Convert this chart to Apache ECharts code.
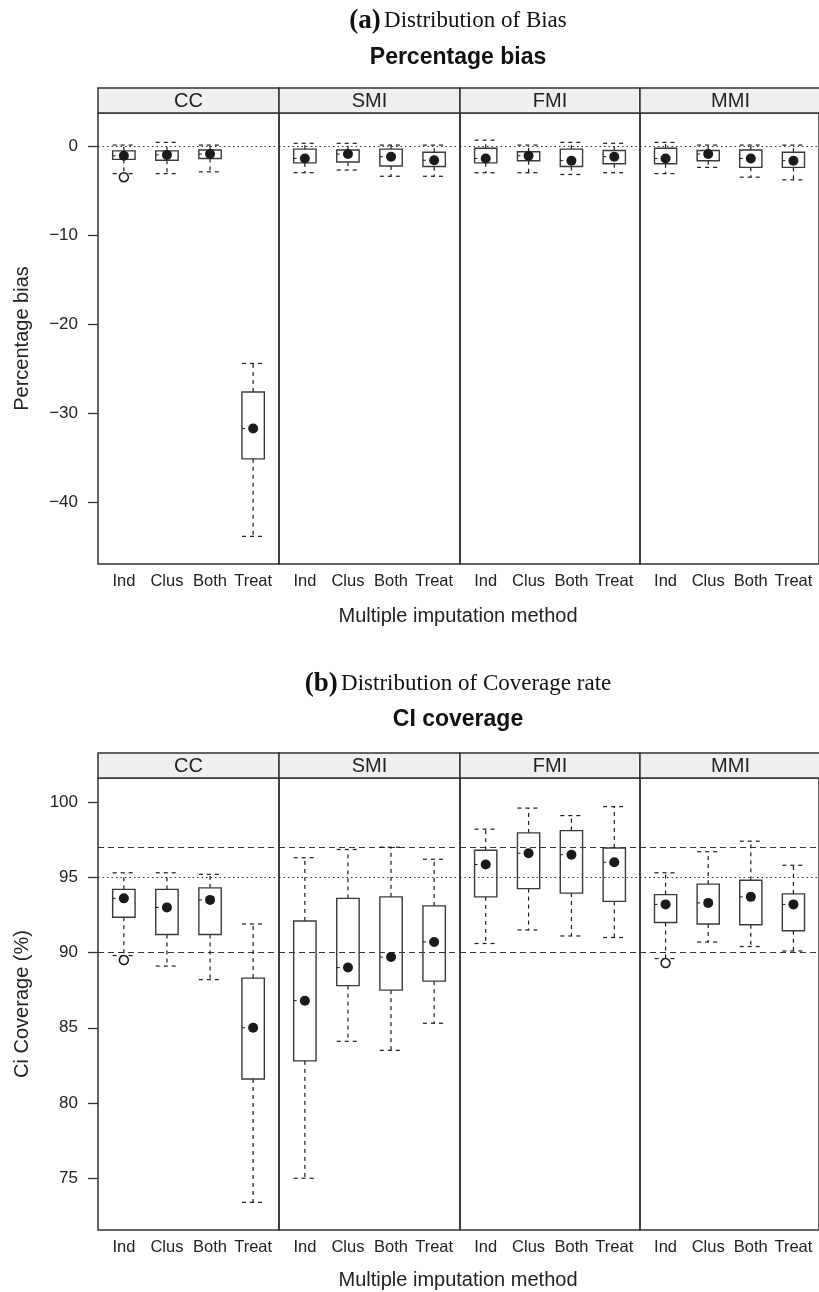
<!DOCTYPE html>
<html>
<head>
<meta charset="utf-8">
<script src="https://cdn.jsdelivr.net/npm/echarts@6/dist/echarts.min.js"></script>
<style>
  html, body { margin: 0; padding: 0; background: #fff; }
  #main { width: 819px; height: 1292px; }
</style>
</head>
<body>
<div id="main"></div>
<script>
// panels and groups
var methods = ['CC', 'SMI', 'FMI', 'MMI'];
var groups = ['Ind', 'Clus', 'Both', 'Treat'];

// box stats per group: [lower whisker, Q1, median, Q3, upper whisker]
var biasCC  = [[-3.1, -1.5, -1.1, -0.55, 0.1], [-3.1, -1.6, -1.0, -0.55, 0.4], [-2.9, -1.4, -0.9, -0.45, 0.1], [-43.8, -35.1, -31.7, -27.6, -24.4]];
var biasSMI = [[-3.0, -1.9, -1.4, -0.35, 0.3], [-2.7, -1.8, -0.9, -0.45, 0.3], [-3.4, -2.25, -1.2, -0.35, 0.1], [-3.4, -2.3, -1.6, -0.7, 0.1]];
var biasFMI = [[-3.0, -1.9, -1.4, -0.25, 0.65], [-3.0, -1.65, -1.1, -0.65, 0.1], [-3.2, -2.3, -1.65, -0.35, 0.4], [-3.0, -2.0, -1.2, -0.5, 0.3]];
var biasMMI = [[-3.1, -2.0, -1.4, -0.25, 0.4], [-2.4, -1.65, -0.9, -0.5, 0.1], [-3.5, -2.4, -1.4, -0.45, 0.1], [-3.8, -2.4, -1.65, -0.7, 0.1]];
// outliers: [panel, group, value]
var biasOutliers = [['CC', 'Ind', -3.5]];

var coverCC  = [[89.8, 92.35, 93.6, 94.2, 95.3], [89.1, 91.2, 93.0, 94.2, 95.3], [88.2, 91.2, 93.5, 94.3, 95.2], [73.4, 81.6, 85.0, 88.3, 91.9]];
var coverSMI = [[75.0, 82.8, 86.8, 92.1, 96.3], [84.1, 87.8, 89.0, 93.6, 96.85], [83.5, 87.5, 89.7, 93.7, 97.0], [85.3, 88.1, 90.7, 93.1, 96.2]];
var coverFMI = [[90.6, 93.7, 95.85, 96.8, 98.2], [91.5, 94.25, 96.6, 97.95, 99.6], [91.1, 93.95, 96.5, 98.1, 99.1], [91.0, 93.4, 96.0, 96.95, 99.7]];
var coverMMI = [[89.6, 92.0, 93.2, 93.85, 95.3], [90.7, 91.9, 93.3, 94.55, 96.7], [90.4, 91.85, 93.7, 94.8, 97.4], [90.1, 91.45, 93.2, 93.9, 95.8]];
var coverOutliers = [['CC', 'Ind', 89.5], ['MMI', 'Ind', 89.3]];

var biasTicks = [-40, -30, -20, -10, 0];
var coverTicks = [75, 80, 85, 90, 95, 100];
var biasDotted = [0];
var coverDotted = [95];
var coverDashed = [90, 97];

var sans = '"Liberation Sans", Arial, Helvetica, sans-serif';
var serif = '"Liberation Serif", "Times New Roman", serif';
var ink = '#1a1a1a';

var panelLeft = [98, 279, 460, 640];
var panelWidth = [181, 181, 180, 181];

var rows = [
  { top: 113, height: 451, min: -46.9, max: 3.7, ticks: biasTicks, stats: [biasCC, biasSMI, biasFMI, biasMMI],
    outliers: biasOutliers, dotted: biasDotted, dashed: [], yName: 'Percentage bias' },
  { top: 778, height: 452, min: 71.56, max: 101.6, ticks: coverTicks, stats: [coverCC, coverSMI, coverFMI, coverMMI],
    outliers: coverOutliers, dotted: coverDotted, dashed: coverDashed, yName: 'Ci Coverage (%)' }
];

function renderBox(params, api) {
  var x = api.value(0);
  var lo = api.coord([x, api.value(1)]);
  var q1 = api.coord([x, api.value(2)]);
  var md = api.coord([x, api.value(3)]);
  var q3 = api.coord([x, api.value(4)]);
  var hi = api.coord([x, api.value(5)]);
  var half = api.size([1, 0])[0] * 0.26;
  var cx = md[0];
  var dash = { stroke: ink, lineWidth: 1.2, lineDash: [4, 4] };
  return {
    type: 'group',
    children: [
      { type: 'line', shape: { x1: cx, y1: q3[1], x2: cx, y2: hi[1] }, style: dash },
      { type: 'line', shape: { x1: cx - half, y1: hi[1], x2: cx + half, y2: hi[1] }, style: dash },
      { type: 'line', shape: { x1: cx, y1: q1[1], x2: cx, y2: lo[1] }, style: dash },
      { type: 'line', shape: { x1: cx - half, y1: lo[1], x2: cx + half, y2: lo[1] }, style: dash },
      { type: 'rect', shape: { x: cx - half, y: q3[1], width: half * 2, height: q1[1] - q3[1] },
        style: { fill: 'transparent', stroke: '#3a3a3a', lineWidth: 1.4 } },
      { type: 'line', shape: { x1: cx - half, y1: md[1], x2: cx - half + 3, y2: md[1] }, style: { stroke: ink, lineWidth: 1 } },
      { type: 'circle', shape: { cx: cx, cy: md[1], r: 5 }, style: { fill: ink } }
    ]
  };
}

var grids = [], xAxes = [], yAxes = [], series = [];
var graphics = [];

rows.forEach(function (row, r) {
  methods.forEach(function (m, p) {
    var gi = r * 4 + p;
    grids.push({
      left: panelLeft[p], top: row.top, width: panelWidth[p], height: row.height,
      show: true, borderColor: '#333', borderWidth: 1.5, backgroundColor: 'transparent'
    });
    xAxes.push({
      gridIndex: gi, type: 'value', min: 0.4, max: 4.6,
      splitLine: { show: false }, axisLine: { show: false }, axisTick: { show: false },
      axisLabel: {
        customValues: [1, 2, 3, 4],
        formatter: function (v) { return groups[Math.round(v) - 1]; },
        fontSize: 16.5, color: '#222', fontFamily: sans, margin: 9
      }
    });
    yAxes.push({
      gridIndex: gi, type: 'value', min: row.min, max: row.max,
      splitLine: { show: false }, axisLine: { show: false },
      axisTick: { show: p === 0, customValues: row.ticks, length: 10, lineStyle: { color: '#333', width: 1.3 } },
      axisLabel: {
        show: p === 0, customValues: row.ticks, margin: 20,
        formatter: function (v) { return String(v).replace('-', '\u2212'); },
        fontSize: 17, color: '#222', fontFamily: sans
      },
      name: p === 0 ? row.yName : '', nameLocation: 'middle', nameGap: 66,
      nameTextStyle: { fontSize: 20, color: '#222', fontFamily: sans }
    });

    var refLines = [];
    row.dotted.forEach(function (v) {
      refLines.push({ yAxis: v, lineStyle: { type: [1.5, 3], color: '#333', width: 1.2 } });
    });
    row.dashed.forEach(function (v) {
      refLines.push({ yAxis: v, lineStyle: { type: [6, 4], color: '#333', width: 1.2 } });
    });

    series.push({
      type: 'custom', xAxisIndex: gi, yAxisIndex: gi,
      renderItem: renderBox, silent: true, z: 3,
      encode: { x: 0, y: [1, 2, 3, 4, 5] },
      data: row.stats[p].map(function (s, g) { return [g + 1].concat(s); }),
      markLine: { silent: true, symbol: ['none', 'none'], label: { show: false }, data: refLines, z: 2 }
    });

    series.push({
      type: 'scatter', xAxisIndex: gi, yAxisIndex: gi, silent: true, z: 4,
      symbol: 'circle', symbolSize: 9,
      itemStyle: { color: '#fff', borderColor: ink, borderWidth: 1.5, opacity: 1 },
      data: row.outliers.filter(function (o) { return o[0] === m; })
        .map(function (o) { return [groups.indexOf(o[1]) + 1, o[2]]; })
    });

    // strip
    var stripTop = row.top - 25;
    graphics.push({ type: 'rect', shape: { x: panelLeft[p], y: stripTop, width: panelWidth[p], height: 25 },
      style: { fill: '#efeff1', stroke: '#333', lineWidth: 1.5 } });
    graphics.push({ type: 'text', x: panelLeft[p] + panelWidth[p] / 2, y: stripTop + 13,
      style: { text: m, fontSize: 20, fontFamily: sans, fill: '#222', align: 'center', verticalAlign: 'middle' } });
  });
});

function addTitles(letter, sub, main, y1, y2, yx) {
  graphics.push({ type: 'text', x: 458, y: y1, style: {
    text: '{b|(' + letter + ')} {n|' + sub + '}', align: 'center', verticalAlign: 'middle',
    rich: { b: { fontFamily: serif, fontWeight: 'bold', fontSize: 27, fill: '#111' },
            n: { fontFamily: serif, fontSize: 23, fill: '#111' } } } });
  graphics.push({ type: 'text', x: 458, y: y2, style: {
    text: main, fontFamily: sans, fontWeight: 'bold', fontSize: 23, fill: '#111', align: 'center', verticalAlign: 'middle' } });
  graphics.push({ type: 'text', x: 458, y: yx, style: {
    text: 'Multiple imputation method', fontFamily: sans, fontSize: 20, fill: '#222', align: 'center', verticalAlign: 'middle' } });
}
addTitles('a', 'Distribution of Bias', 'Percentage bias', 21, 58, 616);
addTitles('b', 'Distribution of Coverage rate', 'CI coverage', 684, 720, 1280);

var myChart = echarts.init(document.getElementById('main'));
myChart.setOption({
  animation: false,
  backgroundColor: '#fff',
  grid: grids,
  xAxis: xAxes,
  yAxis: yAxes,
  series: series,
  graphic: graphics
});
</script>
</body>
</html>
